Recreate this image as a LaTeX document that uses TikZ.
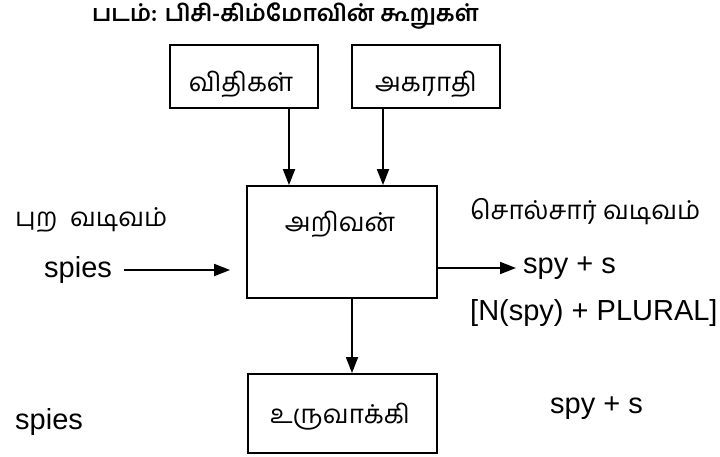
\documentclass[tikz,border=0pt]{standalone}
\usepackage{fontspec}
\setmainfont{Liberation Sans}
\newfontfamily\tamil[Script=Tamil]{Hind Madurai}
\usetikzlibrary{arrows.meta}
\begin{document}
\begin{tikzpicture}[x=1pt,y=1pt,
  blockbox/.style={draw,line width=1.8pt,inner sep=0pt},
  flow/.style={line width=1.8pt,-{Triangle[length=16pt,width=12pt]}},
  tm/.style={font=\tamil\fontsize{26}{30}\selectfont,inner sep=0pt},
  lat/.style={font=\fontsize{29}{32}\selectfont,inner sep=0pt}]
  \useasboundingbox (0,0) rectangle (720,456);
  % title
  \node[font=\tamil\bfseries\fontsize{23}{27}\selectfont,anchor=west,inner sep=0pt] (title) at (92,440) {படம்: பிசி-கிம்மோவின் கூறுகள்};
  % blocks
  \node[blockbox,minimum width=148pt,minimum height=63pt] (rules) at (244,379.5) {};
  \node[blockbox,minimum width=148pt,minimum height=63pt] (lex) at (426,379.5) {};
  \node[blockbox,minimum width=190pt,minimum height=112pt] (rec) at (342,214) {};
  \node[blockbox,minimum width=189pt,minimum height=79pt] (gen) at (342.5,42.5) {};
  % block labels
  \node[tm] (rulesT) at (241,372) {விதிகள்};
  \node[tm] (lexT) at (426,372) {அகராதி};
  \node[tm] (recT) at (340,232) {அறிவன்};
  \node[tm] (genT) at (340,39) {உருவாக்கி};
  % side labels
  \node[tm,anchor=west] (surf) at (15,236) {புற\ \ வடிவம்};
  \node[tm,anchor=west] (lexf) at (470,244) {சொல்சார் வடிவம்};
  \node[lat,anchor=west] (in1) at (44,186) {spies};
  \node[lat,anchor=west] (out1) at (523,188) {spy + s};
  \node[lat,anchor=west] (gloss) at (470,143) {[N(spy) + PLURAL]};
  \node[lat,anchor=west] (in2) at (15,34) {spies};
  \node[lat,anchor=west] (out2) at (550,48) {spy + s};
  % connectors
  \coordinate (a1) at (289,348);
  \coordinate (a2) at (383,348);
  \draw[flow] (a1) -- (a1 |- rec.north);
  \draw[flow] (a2) -- (a2 |- rec.north);
  \coordinate (d1) at (352,158);
  \draw[flow] (d1) -- (d1 |- gen.north);
  \path (in1.east) ++(12,0) coordinate (s1);
  \draw[flow] (s1) -- ([xshift=-16pt]s1 -| rec.west);
  \draw[flow] (rec.east |- out1.west) -- ([xshift=-7pt]out1.west);
\end{tikzpicture}
\end{document}
